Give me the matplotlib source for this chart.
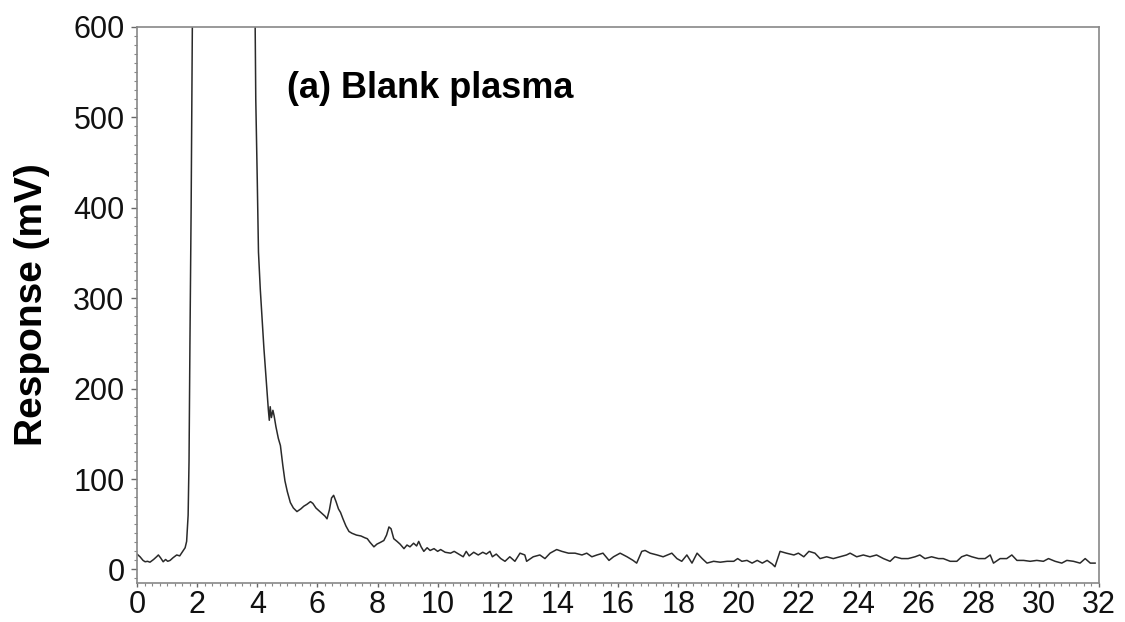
import matplotlib.pyplot as plt
from matplotlib.ticker import MultipleLocator

# chromatogram trace (time in min, response in mV)
time = [0.0, 0.1, 0.2, 0.27, 0.35, 0.43, 0.55, 0.65, 0.71, 0.78, 0.87, 0.95, 1.02, 1.1, 1.2,
        1.32, 1.42, 1.54, 1.6, 1.65, 1.7, 1.73, 1.76, 1.8, 1.86, 1.95, 2.5, 3.5, 3.85, 3.92,
        3.95, 4.0, 4.04, 4.1, 4.16, 4.22, 4.27, 4.33, 4.37, 4.4, 4.43, 4.47, 4.52, 4.56, 4.62,
        4.7, 4.77, 4.85, 4.92, 5.0, 5.1, 5.2, 5.32, 5.45, 5.55, 5.65, 5.77, 5.85, 5.95, 6.05,
        6.15, 6.25, 6.32, 6.4, 6.47, 6.54, 6.62, 6.7, 6.77, 6.85, 6.95, 7.05, 7.15, 7.3, 7.45,
        7.58, 7.66, 7.75, 7.88, 7.98, 8.1, 8.21, 8.3, 8.38, 8.45, 8.54, 8.65, 8.75, 8.88, 8.98,
        9.08, 9.2, 9.3, 9.37, 9.45, 9.54, 9.65, 9.75, 9.88, 10.0, 10.1, 10.25, 10.43, 10.55, 10.7,
        10.85, 10.95, 11.05, 11.2, 11.35, 11.5, 11.62, 11.74, 11.82, 11.95, 12.1, 12.24, 12.4,
        12.57, 12.74, 12.9, 12.96, 13.18, 13.4, 13.57, 13.74, 13.96, 14.13, 14.35, 14.57, 14.8,
        14.96, 15.13, 15.3, 15.5, 15.7, 15.85, 16.07, 16.3, 16.5, 16.62, 16.79, 16.9, 17.07, 17.3,
        17.5, 17.79, 17.96, 18.12, 18.29, 18.46, 18.63, 18.8, 18.96, 19.18, 19.4, 19.63, 19.85,
        19.98, 20.12, 20.29, 20.46, 20.63, 20.8, 20.96, 21.13, 21.22, 21.39, 21.6, 21.85, 22.0,
        22.18, 22.35, 22.55, 22.72, 22.94, 23.16, 23.38, 23.6, 23.72, 23.94, 24.16, 24.38, 24.6,
        24.83, 25.05, 25.21, 25.43, 25.65, 25.88, 26.04, 26.21, 26.43, 26.66, 26.82, 27.05, 27.27,
        27.43, 27.6, 27.77, 27.99, 28.21, 28.38, 28.49, 28.71, 28.93, 29.1, 29.27, 29.49, 29.71,
        29.93, 30.15, 30.32, 30.54, 30.76, 30.93, 31.15, 31.37, 31.54, 31.71, 31.87]
response = [17, 14, 10, 8.5, 9, 8, 11, 14, 16, 13, 8.5, 11, 9, 10, 13,
            16, 15, 21, 24, 31, 60, 120, 250, 400, 700, 1500, 2500, 2500, 1200, 640,
            520, 430, 351, 310, 277, 245, 222, 195, 176, 165, 180, 168, 176, 170, 158,
            145, 137, 115, 98, 86, 74, 68, 64, 67, 70, 72, 75, 73, 68, 65,
            62, 59, 56, 66, 79, 82, 75, 67, 63, 56, 48, 42, 40, 38, 37,
            35, 34, 30, 25, 28, 30, 32, 38, 47, 45, 34, 31, 28, 23, 27,
            25, 29, 26, 31, 25, 20, 24, 21, 23, 20, 22, 19, 18, 20, 17,
            14, 20, 15, 19, 16, 19, 17, 20, 14, 17, 12, 9, 14,
            9, 18, 16, 9, 14, 16, 12, 18, 22, 20, 18, 18, 16,
            18, 14, 16, 18, 10, 14, 18, 14, 10, 7, 20, 21, 18, 16,
            14, 18, 12, 9, 16, 7, 18, 12, 7, 9, 8, 9, 9,
            12, 9, 10, 7, 10, 7, 10, 6, 3, 20, 18, 16, 18,
            14, 20, 18, 12, 14, 12, 14, 16, 18, 14, 16, 14, 16,
            12, 9, 14, 12, 12, 14, 16, 12, 14, 12, 12, 9, 9,
            14, 16, 14, 12, 12, 16, 7, 12, 12, 16, 10, 10, 9,
            10, 9, 12, 9, 7, 10, 9, 7, 12, 7, 7]

x_ticks = list(range(0, 33, 2))
y_ticks = [0, 100, 200, 300, 400, 500, 600]

fig = plt.figure(figsize=(11.25, 6.22), dpi=100)
ax = fig.add_axes([0.1218, 0.0627, 0.8551, 0.8939])

ax.plot(time, response, color="#2a2a2a", lw=1.1)

ax.set_xlim(0, 32)
ax.set_ylim(-15, 600)
ax.set_xticks(x_ticks)
ax.set_yticks(y_ticks)
ax.xaxis.set_minor_locator(MultipleLocator(0.25))
ax.yaxis.set_minor_locator(MultipleLocator(10))

for s in ax.spines.values():
    s.set_color("#888888")
    s.set_linewidth(1.2)
ax.tick_params(which="major", length=4, width=1, color="#666666",
               labelsize=22, labelcolor="#111111", pad=5)
ax.tick_params(axis="x", which="major", length=3, pad=2)
ax.tick_params(which="minor", length=2, width=0.8, color="#888888")
for lab in ax.get_xticklabels() + ax.get_yticklabels():
    lab.set_family("Liberation Sans")

ax.set_ylabel("Response (mV)", fontsize=28, fontweight="bold",
              family="Liberation Sans", labelpad=17)

ax.text(5.0, 532, "(a) Blank plasma", fontsize=26, fontweight="bold",
        family="Liberation Sans", va="center", ha="left")

fig.savefig("out.png", dpi=100)
